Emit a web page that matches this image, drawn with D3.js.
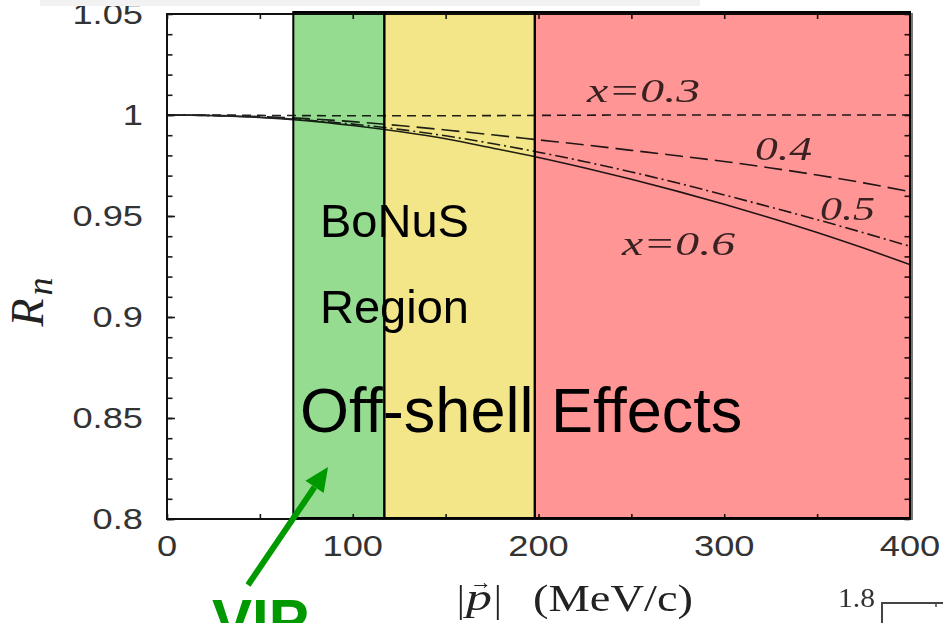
<!DOCTYPE html>
<html>
<head>
<meta charset="utf-8">
<script src="https://cdn.jsdelivr.net/npm/d3@7"></script>
<style>
  html, body { margin: 0; padding: 0; background: #fff; }
  svg { display: block; }
</style>
</head>
<body>
<svg id="chart" width="943" height="623"></svg>
<script>
// Momentum grid (MeV/c) and the neutron ratio R_n for each Bjorken x
const momenta = [0, 25, 50, 75, 100, 125, 150, 175, 200, 225, 250, 275, 300, 325, 350, 375, 400];
const rnX03 = [1.000, 1.000, 0.9998, 0.9997, 0.9996, 0.9996, 0.9996, 0.9997, 0.9998, 0.9999, 1.000, 1.000, 1.000, 1.000, 1.000, 1.000, 1.000];
const rnX04 = [1.000, 0.9998, 0.9992, 0.9982, 0.9967, 0.9948, 0.9926, 0.9902, 0.9877, 0.9852, 0.9825, 0.9798, 0.9770, 0.9738, 0.9703, 0.9664, 0.9620];
const rnX05 = [1.000, 0.9997, 0.9989, 0.9975, 0.9955, 0.9929, 0.9897, 0.9859, 0.9816, 0.9769, 0.9718, 0.9663, 0.9604, 0.9544, 0.9482, 0.9417, 0.9350];
const rnX06 = [1.000, 0.9997, 0.9988, 0.9972, 0.9948, 0.9918, 0.9882, 0.9837, 0.9790, 0.9738, 0.9682, 0.9622, 0.9558, 0.9490, 0.9418, 0.9341, 0.9260];

const seriesNames = ["x=0.3", "0.4", "0.5", "x=0.6"];

// Kinematic regions along |p|
const regionNames = ["BoNuS", "Off-shell (mid)", "Off-shell (high)"];
const regionStart = [68, 117, 198];
const regionEnd = [117, 198, 400];

const xTicks = [0, 100, 200, 300, 400];
const xMinorTicks = [50, 150, 250, 350];
const yTicks = [0.8, 0.85, 0.9, 0.95, 1, 1.05];
const yTickLabels = ["0.8", "0.85", "0.9", "0.95", "1", "1.05"];
const yMinorTicks = d3.range(0.80, 1.0501, 0.01).map(v => +v.toFixed(2));

const svg = d3.select("#chart");
const x = d3.scaleLinear().domain([0, 400]).range([167, 910]);
const y = d3.scaleLinear().domain([0.8, 1.05]).range([519, 14]);

const regionFill = ["#95dc91", "#f3e689", "#ff9594"];

// Region bands
svg.append("g").selectAll("rect").data(regionStart).join("rect")
  .attr("x", (d, i) => x(d))
  .attr("y", y(1.05) - 2)
  .attr("width", (d, i) => x(regionEnd[i]) - x(d))
  .attr("height", y(0.8) - y(1.05) + 1)
  .attr("fill", (d, i) => regionFill[i]);

// Curves, darkened over the bands with multiply blending
const ink = svg.append("g").style("mix-blend-mode", "multiply");
const series = [rnX03, rnX04, rnX05, rnX06];
const dashes = ["9,6", "18,7", "13,4,2,4", null];
const line = d3.line().x((d, i) => x(momenta[i])).y(d => y(d)).curve(d3.curveMonotoneX);
ink.selectAll("path.curve").data(series).join("path")
  .attr("class", "curve")
  .attr("d", d => line(d))
  .attr("fill", "none")
  .attr("stroke", "#222")
  .attr("stroke-width", 1.6)
  .attr("stroke-dasharray", (d, i) => dashes[i]);

// Axes with inward ticks on all four sides
function styleAxis(g) {
  g.select(".domain").remove();
  g.selectAll(".tick line").attr("stroke", "#1a1a1a").attr("stroke-width", 1.6);
}
ink.append("g").attr("transform", `translate(${x(0)},0)`)
  .call(d3.axisLeft(y).tickValues(yMinorTicks).tickSize(-5.5).tickFormat(""))
  .call(styleAxis);
ink.append("g").attr("transform", `translate(${x(400)},0)`)
  .call(d3.axisRight(y).tickValues(yMinorTicks).tickSize(-5.5).tickFormat(""))
  .call(styleAxis);
ink.append("g").attr("transform", `translate(${x(0)},0)`)
  .call(d3.axisLeft(y).tickValues(yTicks.slice(0, 5)).tickSize(-8).tickFormat(""))
  .call(styleAxis);
ink.append("g").attr("transform", `translate(0,${y(0.8)})`)
  .call(d3.axisBottom(x).tickValues(xTicks.concat(xMinorTicks)).tickSize(-5).tickFormat(""))
  .call(styleAxis);
ink.append("g").attr("transform", `translate(0,${y(1.05)})`)
  .call(d3.axisTop(x).tickValues(xTicks.concat(xMinorTicks)).tickSize(-5).tickFormat(""))
  .call(styleAxis);

// Plot frame
ink.append("rect")
  .attr("x", x(0)).attr("y", y(1.05))
  .attr("width", x(400) - x(0)).attr("height", y(0.8) - y(1.05))
  .attr("fill", "none").attr("stroke", "#111").attr("stroke-width", 2);

// Band outlines
svg.append("g").selectAll("rect").data(regionStart).join("rect")
  .attr("x", (d, i) => x(d))
  .attr("y", y(1.05) - 2)
  .attr("width", (d, i) => x(regionEnd[i]) - x(d))
  .attr("height", y(0.8) - y(1.05) + 1)
  .attr("fill", "none")
  .attr("stroke", "#000")
  .attr("stroke-width", 2);
svg.append("line")
  .attr("x1", x(400) + 2).attr("x2", x(400) + 2)
  .attr("y1", y(1.05) - 1).attr("y2", y(0.8) + 1)
  .attr("stroke", "#777").attr("stroke-width", 2);

// Curve labels
const labelPos = [[587, 102, 113], [755, 160, 57], [820, 220, 55], [622, 255, 113]];
ink.selectAll("text.clabel").data(seriesNames).join("text")
  .attr("class", "clabel")
  .attr("x", (d, i) => labelPos[i][0])
  .attr("y", (d, i) => labelPos[i][1])
  .attr("textLength", (d, i) => labelPos[i][2])
  .attr("lengthAdjust", "spacingAndGlyphs")
  .attr("font-family", "'Liberation Serif', 'Times New Roman', serif")
  .attr("font-style", "italic")
  .attr("font-size", 33)
  .attr("fill", "#3a3a3a")
  .text(d => d);

// Tick labels (slightly widened sans)
const tickFont = "'Liberation Sans', Arial, sans-serif";
svg.append("g").selectAll("text").data(yTicks).join("text")
  .attr("transform", d => `translate(143,${y(d)}) scale(1.25,1)`)
  .attr("text-anchor", "end")
  .attr("dy", "0.36em")
  .attr("font-family", tickFont)
  .attr("font-size", 29)
  .attr("fill", "#333")
  .text((d, i) => yTickLabels[i]);
svg.append("g").selectAll("text").data(xTicks).join("text")
  .attr("transform", d => `translate(${x(d)},556) scale(1.25,1)`)
  .attr("text-anchor", "middle")
  .attr("font-family", tickFont)
  .attr("font-size", 29)
  .attr("fill", "#333")
  .text(d => d);

// Faint strip along the top edge
svg.append("rect").attr("x", 40).attr("y", 0).attr("width", 660).attr("height", 6).attr("fill", "#f2f2f2");

// Axis titles
const serif = "'Liberation Serif', 'Times New Roman', serif";
svg.append("text")
  .attr("transform", "translate(43,302) rotate(-90)")
  .attr("text-anchor", "middle")
  .attr("font-family", serif).attr("font-style", "italic")
  .attr("font-size", 46).attr("fill", "#222")
  .text("R")
  .append("tspan").attr("font-size", 36).attr("dy", 9).attr("dx", 3).text("n");

const xt = svg.append("g").attr("fill", "#222").attr("font-family", serif);
xt.append("text").attr("x", 457).attr("y", 612).attr("font-size", 38).text("|");
xt.append("text").attr("x", 466).attr("y", 610).attr("font-size", 38).attr("font-style", "italic").attr("textLength", 26).attr("lengthAdjust", "spacingAndGlyphs").text("p");
xt.append("text").attr("x", 470).attr("y", 589).attr("font-size", 22).attr("textLength", 22).attr("lengthAdjust", "spacingAndGlyphs").text("→");
xt.append("text").attr("x", 494).attr("y", 612).attr("font-size", 38).text("|");
xt.append("text").attr("x", 533).attr("y", 611).attr("font-size", 38).attr("textLength", 160).attr("lengthAdjust", "spacingAndGlyphs").text("(MeV/c)");

// Region annotations
const sans = "'Liberation Sans', Arial, sans-serif";
svg.append("text").attr("x", 320).attr("y", 237).attr("font-family", sans).attr("font-size", 47).attr("fill", "#000").text("BoNuS");
svg.append("text").attr("x", 320).attr("y", 323).attr("font-family", sans).attr("font-size", 47).attr("fill", "#000").text("Region");
svg.append("text").attr("x", 300).attr("y", 432).attr("font-family", sans).attr("font-size", 63).attr("fill", "#000").text("Off-shell Effects");

// VIP pointer
const green = "#009a00";
const tail = [x(43.6), y(0.7673)], tip = [x(86.7), y(0.8257)];
const ang = Math.atan2(tip[1] - tail[1], tip[0] - tail[0]);
const headLen = 24, headHalf = 11;
const base = [tip[0] - headLen * Math.cos(ang), tip[1] - headLen * Math.sin(ang)];
svg.append("line")
  .attr("x1", tail[0]).attr("y1", tail[1]).attr("x2", base[0]).attr("y2", base[1])
  .attr("stroke", green).attr("stroke-width", 6);
svg.append("path")
  .attr("d", d3.line()([
    tip,
    [base[0] + headHalf * Math.sin(ang), base[1] - headHalf * Math.cos(ang)],
    [base[0] - headHalf * Math.sin(ang), base[1] + headHalf * Math.cos(ang)]
  ]) + "Z")
  .attr("fill", green);
svg.append("text").attr("x", 212).attr("y", 641)
  .attr("font-family", sans).attr("font-weight", "bold").attr("font-size", 60)
  .attr("fill", green).text("VIP");

// Corner of the neighbouring panel
svg.append("text").attr("x", 838).attr("y", 607).attr("font-family", serif).attr("font-size", 27)
  .attr("textLength", 37).attr("lengthAdjust", "spacingAndGlyphs").attr("fill", "#333").text("1.8");
svg.append("path").attr("d", "M882,623 V603 H943").attr("fill", "none").attr("stroke", "#444").attr("stroke-width", 2);
svg.append("line").attr("x1", 936).attr("x2", 936).attr("y1", 603).attr("y2", 607).attr("stroke", "#444").attr("stroke-width", 1.5);
</script>
</body>
</html>
